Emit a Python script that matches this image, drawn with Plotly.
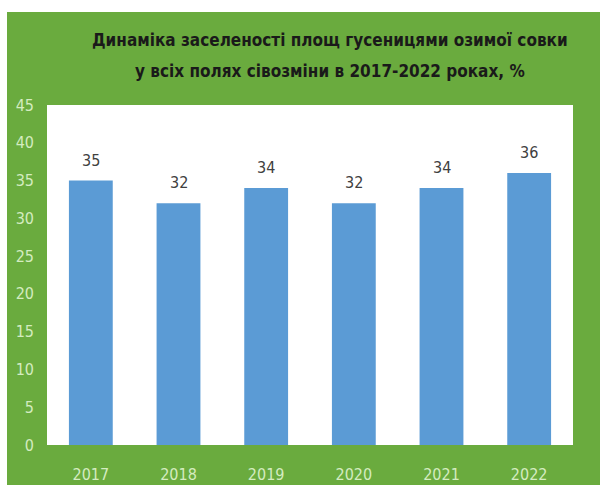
import plotly.graph_objects as go

# Data
years = ["2017", "2018", "2019", "2020", "2021", "2022"]
values = [35, 32, 34, 32, 34, 36]
y_ticks = [0, 5, 10, 15, 20, 25, 30, 35, 40, 45]

title_lines = [
    "Динаміка заселеності площ гусеницями озимої совки",
    "у всіх полях сівозміни в 2017-2022 роках, %",
]

GREEN = "#6aab3e"
BAR = "#5b9bd5"
PALE = "#d4ecc0"
NARROW = "DejaVu Sans Condensed, Liberation Sans Narrow, sans-serif"

W, H = 600, 485
ML, MR, MT, MB = 47, 27, 105, 40

# one slot per year on the x axis, labelled with the year
pos = list(range(len(years)))

fig = go.Figure()
fig.add_trace(go.Bar(
    x=pos, y=values,
    marker=dict(color=BAR, line=dict(width=0)),
    hovertext=years, hoverinfo="text+y",
))

# value labels above the bars
for p, v in zip(pos, values):
    fig.add_annotation(
        x=p, y=v, text=str(v), showarrow=False,
        yanchor="bottom", yshift=9,
        font=dict(family=NARROW, size=16, color="#404040"),
    )

pw = W - ML - MR
ph = H - MT - MB
def px_x(p):
    return (p - ML) / pw
def px_y(p):
    return (H - MB - p) / ph

# two-line title, centred
for line, ypix in zip(title_lines, [40, 71]):
    fig.add_annotation(
        x=px_x(330), y=px_y(ypix), xref="paper", yref="paper",
        xanchor="center", yanchor="middle", showarrow=False,
        text="<b>" + line + "</b>",
        font=dict(family=NARROW, size=17, color="#1a1a1a"),
    )

# white page edge along the top and left
fig.add_shape(type="rect", xref="paper", yref="paper",
              x0=px_x(0), x1=px_x(W), y0=px_y(0), y1=px_y(12),
              fillcolor="white", line=dict(width=0), layer="above")
fig.add_shape(type="rect", xref="paper", yref="paper",
              x0=px_x(0), x1=px_x(7), y0=px_y(H), y1=px_y(0),
              fillcolor="white", line=dict(width=0), layer="above")

fig.update_layout(
    width=W, height=H,
    margin=dict(l=ML, r=MR, t=MT, b=MB, pad=0, autoexpand=False),
    paper_bgcolor=GREEN,
    plot_bgcolor="white",
    showlegend=False,
    bargap=0.5,
)
fig.update_xaxes(
    range=[-0.5, len(years) - 0.5], tickvals=pos, ticktext=years,
    automargin=False,
    showgrid=False, showline=False, zeroline=False,
    tickfont=dict(family=NARROW, size=16, color=PALE),
    ticklabelstandoff=18,
)
fig.update_yaxes(
    range=[0, 45], tickvals=y_ticks, automargin=False,
    showgrid=False, showline=False, zeroline=False,
    tickfont=dict(family=NARROW, size=16, color=PALE),
    ticklabelstandoff=12,
)

fig.write_html("out.html")
